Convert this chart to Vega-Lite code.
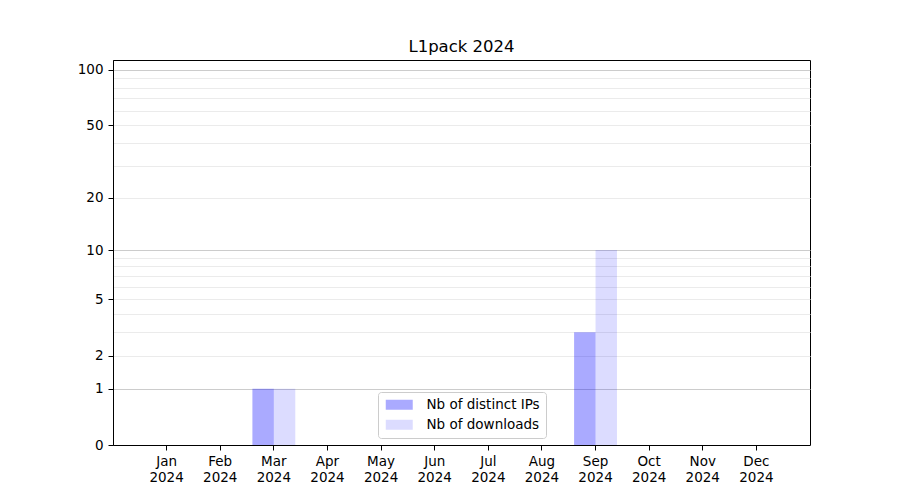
{
  "$schema": "https://vega.github.io/schema/vega-lite/v6.json",
  "autosize": {"type": "none"},
  "padding": {"left": 113, "top": 60, "right": 90, "bottom": 55},
  "width": 697,
  "height": 385,
  "config": {
    "font": "DejaVu Sans",
    "view": {"stroke": "#000000", "strokeWidth": 1},
    "axis": {"labelFont": "DejaVu Sans", "labelColor": "#000000", "labelFontSize": 13.5, "tickColor": "#000000", "domainColor": "#000000", "tickSize": 5, "labelPadding": 3}
  },
  "title": {"text": "L1pack 2024", "fontSize": 16.5, "fontWeight": "normal", "font": "DejaVu Sans", "color": "#000000", "offset": 5},
  "data": {
    "values": [
      {"month": "Jan", "series": "Nb of distinct IPs", "value": 0},
      {"month": "Jan", "series": "Nb of downloads", "value": 0},
      {"month": "Feb", "series": "Nb of distinct IPs", "value": 0},
      {"month": "Feb", "series": "Nb of downloads", "value": 0},
      {"month": "Mar", "series": "Nb of distinct IPs", "value": 1},
      {"month": "Mar", "series": "Nb of downloads", "value": 1},
      {"month": "Apr", "series": "Nb of distinct IPs", "value": 0},
      {"month": "Apr", "series": "Nb of downloads", "value": 0},
      {"month": "May", "series": "Nb of distinct IPs", "value": 0},
      {"month": "May", "series": "Nb of downloads", "value": 0},
      {"month": "Jun", "series": "Nb of distinct IPs", "value": 0},
      {"month": "Jun", "series": "Nb of downloads", "value": 0},
      {"month": "Jul", "series": "Nb of distinct IPs", "value": 0},
      {"month": "Jul", "series": "Nb of downloads", "value": 0},
      {"month": "Aug", "series": "Nb of distinct IPs", "value": 0},
      {"month": "Aug", "series": "Nb of downloads", "value": 0},
      {"month": "Sep", "series": "Nb of distinct IPs", "value": 3},
      {"month": "Sep", "series": "Nb of downloads", "value": 10},
      {"month": "Oct", "series": "Nb of distinct IPs", "value": 0},
      {"month": "Oct", "series": "Nb of downloads", "value": 0},
      {"month": "Nov", "series": "Nb of distinct IPs", "value": 0},
      {"month": "Nov", "series": "Nb of downloads", "value": 0},
      {"month": "Dec", "series": "Nb of distinct IPs", "value": 0},
      {"month": "Dec", "series": "Nb of downloads", "value": 0}
    ]
  },
  "mark": {"type": "bar"},
  "encoding": {
    "x": {
      "field": "month",
      "type": "nominal",
      "sort": ["Jan","Feb","Mar","Apr","May","Jun","Jul","Aug","Sep","Oct","Nov","Dec"],
      "scale": {"paddingInner": 0.2, "paddingOuter": 0.6},
      "axis": {"title": null, "labelAngle": 0, "grid": false, "labelExpr": "[datum.label, '2024']", "labelLineHeight": 16, "labelBaseline": "top", "labelPadding": 4}
    },
    "xOffset": {
      "field": "series",
      "type": "nominal",
      "sort": ["Nb of distinct IPs", "Nb of downloads"],
      "scale": {"paddingInner": 0, "paddingOuter": 0}
    },
    "y": {
      "field": "value",
      "type": "quantitative",
      "scale": {"type": "symlog", "constant": 1, "domain": [0, 113], "nice": false},
      "axis": {
        "title": null,
        "values": [0,1,2,3,4,5,6,7,8,9,10,20,30,40,50,60,70,80,90,100],
        "labelExpr": "indexof([0,1,2,5,10,20,50,100], datum.value) >= 0 ? datum.label : ''",
        "labelPadding": 5,
        "tickOpacity": {"condition": {"test": "indexof([0,1,2,5,10,20,50,100], datum.value) >= 0", "value": 1}, "value": 0},
        "grid": true,
        "gridColor": {"condition": {"test": "indexof([1,10,100], datum.value) >= 0", "value": "#cccccc"}, "value": "#ebebeb"},
        "gridWidth": 1,
        "domain": true
      }
    },
    "color": {
      "field": "series",
      "type": "nominal",
      "sort": ["Nb of distinct IPs", "Nb of downloads"],
      "scale": {"domain": ["Nb of distinct IPs", "Nb of downloads"], "range": ["rgba(0,0,255,0.333)", "rgba(0,0,255,0.137)"]},
      "legend": {
        "title": null,
        "orient": "none",
        "legendX": 265,
        "legendY": 332,
        "symbolType": "M-1,-1H4.4V1H-1Z",
        "symbolSize": 100,
        "symbolStrokeWidth": 0,
        "labelFontSize": 13.5,
        "labelFont": "DejaVu Sans",
        "labelColor": "#000000",
        "labelOffset": 29,
        "rowPadding": 5,
        "padding": 6,
        "fillColor": "rgba(255,255,255,0.8)",
        "strokeColor": "#cccccc",
        "cornerRadius": 3
      }
    }
  }
}
